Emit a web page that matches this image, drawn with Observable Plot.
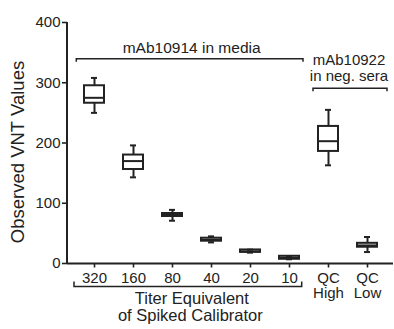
<!DOCTYPE html>
<html>
<head>
<meta charset="utf-8">
<script src="https://cdn.jsdelivr.net/npm/d3@7"></script>
<script src="https://cdn.jsdelivr.net/npm/@observablehq/plot@0.6"></script>
<style>
  html, body { margin: 0; padding: 0; background: white; }
</style>
</head>
<body>
<div id="chart"></div>
<script>
// Categories (x axis) and box-plot summaries
const categories  = ["320", "160", "80", "40", "20", "10", "QC\nHigh", "QC\nLow"];
const whiskerLow  = [250, 143, 71, 35, 18, 7, 163, 19];
const quartile1   = [266, 156, 78, 37, 18.5, 7, 186, 27];
const medians     = [275, 170, 80.5, 39.5, 20, 9.5, 203, 30];
const quartile3   = [295, 180, 83, 42, 22.5, 12, 227.5, 33.5];
const whiskerHigh = [308, 196, 89, 45, 23, 12, 255, 44];
const yTicks = [0, 100, 200, 300, 400];

const rows = categories.map((c, i) => ({
  cat: c, lo: whiskerLow[i], q1: quartile1[i], med: medians[i], q3: quartile3[i], hi: whiskerHigh[i]
}));

const ink = "#222";
const font = "'Liberation Sans', Arial, Helvetica, sans-serif";

const chart = Plot.plot({
  width: 394,
  height: 329,
  marginLeft: 67,
  marginRight: 1,
  marginTop: 22,
  marginBottom: 66,
  style: { fontFamily: font, fontSize: "15px", color: ink, background: "white" },
  x: { domain: categories, paddingInner: 0.5, paddingOuter: 0.345, align: 0.5, label: null, tickSize: 4.5, tickPadding: 4 },
  y: { domain: [0, 400], ticks: yTicks, label: null, tickSize: 5, tickPadding: 2 },
  marks: [
    Plot.ruleY([0], { stroke: ink, strokeWidth: 2 }),
    Plot.ruleX(rows, { x: "cat", y1: "lo", y2: "hi", stroke: ink, strokeWidth: 2 }),
    Plot.barY(rows, { x: "cat", y1: "q1", y2: "q3", fill: "white", stroke: ink, strokeWidth: 2 }),
    Plot.tickY(rows, { x: "cat", y: "med", stroke: ink, strokeWidth: 2 }),
    Plot.tickY(rows, { x: "cat", y: "hi", stroke: ink, strokeWidth: 2, insetLeft: 7, insetRight: 7 }),
    Plot.tickY(rows, { x: "cat", y: "lo", stroke: ink, strokeWidth: 2, insetLeft: 7, insetRight: 7 })
  ]
});

document.getElementById("chart").appendChild(chart);

const svg = d3.select(chart);
svg.selectAll('g[aria-label^="x-axis"] text, g[aria-label^="y-axis"] text')
  .attr("font-size", 15).attr("font-family", font).attr("fill", ink);
svg.selectAll('g[aria-label^="x-axis"] line, g[aria-label^="y-axis"] line, g[aria-label^="x-axis"] path, g[aria-label^="y-axis"] path')
  .attr("stroke-width", 1.6);
// slightly looser line spacing for two-line tick labels
svg.selectAll('g[aria-label^="x-axis"] text').each(function () {
  const ts = this.querySelectorAll("tspan");
  ts.forEach((t, i) => { if (i > 0) t.setAttribute("dy", "1.05em"); });
});

// Annotations positioned through the chart's own scales
const sx = chart.scale("x");
const sy = chart.scale("y");
const cx = c => sx.apply(c) + sx.bandwidth / 2;
const ann = svg.append("g");

// y axis line
ann.append("line")
  .attr("x1", 67).attr("x2", 67)
  .attr("y1", sy.apply(0) + 1).attr("y2", sy.apply(400))
  .attr("stroke", ink).attr("stroke-width", 2);

function bracket(x1, x2, y, tick) {
  ann.append("path")
    .attr("d", `M${x1},${y + tick}V${y}H${x2}V${y + tick}`)
    .attr("fill", "none").attr("stroke", ink).attr("stroke-width", 1.5);
}
function label(x, y, txt, size) {
  return ann.append("text")
    .attr("x", x).attr("y", y)
    .attr("text-anchor", "middle")
    .attr("fill", ink)
    .attr("font-family", font)
    .attr("font-size", size)
    .text(txt);
}

// mAb10914 bracket
{
  const x1 = cx("320") - 17.7, x2 = cx("10") + 14, y = sy.apply(339);
  bracket(x1, x2, y, 3);
  label((x1 + x2) / 2 + 2, y - 6, "mAb10914 in media", "15.5px");
}
// mAb10922 bracket
{
  const x1 = cx("QC\nHigh") - 15, x2 = cx("QC\nLow") + 20, y = sy.apply(290);
  bracket(x1, x2, y, 3);
  label((x1 + x2) / 2 - 1, y - 23.5, "mAb10922", "15px");
  label((x1 + x2) / 2 - 1, y - 7, "in neg. sera", "15px");
}
// bottom bracket
{
  const x1 = cx("320") - 20, x2 = cx("10") + 12.7, y = sy.apply(0) + 23.5;
  bracket(x1, x2, y, -5);
  label((x1 + x2) / 2 + 4, y + 17.5, "Titer Equivalent", "16.5px");
  label((x1 + x2) / 2 + 2.5, y + 34.3, "of Spiked Calibrator", "16.5px");
}
// y axis title
ann.append("text")
  .attr("transform", "translate(24,152) rotate(-90)")
  .attr("text-anchor", "middle")
  .attr("fill", ink)
  .attr("font-family", font)
  .attr("font-size", "18.5px")
  .text("Observed VNT Values");
</script>
</body>
</html>
